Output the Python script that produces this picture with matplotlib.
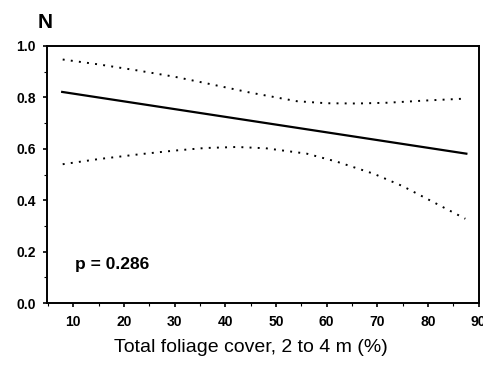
import numpy as np
import matplotlib
matplotlib.use('Agg')
import matplotlib.pyplot as plt
from matplotlib.ticker import MultipleLocator

plt.rcParams['font.family'] = ['Liberation Sans', 'DejaVu Sans']

# fitted line and confidence band
x_fit = [7.8, 87.6]
y_fit = [0.821, 0.581]

x_up = [7.9, 15, 22.5, 30, 36.4, 45, 54.1, 60, 66, 72, 80, 87.4]
y_up = [0.947, 0.928, 0.905, 0.880, 0.854, 0.818, 0.785, 0.777, 0.776, 0.779, 0.788, 0.795]

x_lo = [7.9, 15, 23.2, 30, 36, 42.3, 48, 56.1, 62, 69.3, 75, 79.2, 87.4]
y_lo = [0.540, 0.560, 0.579, 0.593, 0.603, 0.607, 0.602, 0.581, 0.550, 0.503, 0.455, 0.412, 0.328]

xticks = [10, 20, 30, 40, 50, 60, 70, 80, 90]
yticks = [0.0, 0.2, 0.4, 0.6, 0.8, 1.0]

fig = plt.figure(figsize=(4.83, 3.67), dpi=100)
ax = fig.add_axes([0.0973, 0.174, 0.8934, 0.701])

ax.plot(x_fit, y_fit, color='black', lw=1.6)
ax.plot(x_up, y_up, color='black', lw=1.4, linestyle=(0, (1, 3.2)))
ax.plot(x_lo, y_lo, color='black', lw=1.4, linestyle=(0, (1, 3.2)))

ax.set_xlim(4.8, 90)
ax.set_ylim(0, 1.0)
ax.set_xticks(xticks)
ax.set_yticks(yticks)
ax.set_yticklabels(['%.1f' % v for v in yticks])
ax.xaxis.set_minor_locator(MultipleLocator(5))
ax.yaxis.set_minor_locator(MultipleLocator(0.1))
ax.tick_params(which='major', direction='out', length=3, width=1.2,
               labelsize=10)
ax.tick_params(axis='x', which='major', pad=5.3)
ax.tick_params(axis='y', which='major', pad=5)
ax.tick_params(which='minor', direction='out', length=2, width=0.8)
for lab in ax.get_xticklabels() + ax.get_yticklabels():
    lab.set_fontweight('bold')
for s in ax.spines.values():
    s.set_linewidth(1.4)

ax.set_xlabel('Total foliage cover, 2 to 4 m (%)', fontsize=14, va='top')
ax.xaxis.set_label_coords(0.472, -0.140)
ax.text(10.3, 0.134, 'p = 0.286', fontsize=12.5, fontweight='bold', va='baseline')
fig.text(0.078, 0.925, 'N', fontsize=15, fontweight='bold')

fig.savefig('out.png', dpi=100)
